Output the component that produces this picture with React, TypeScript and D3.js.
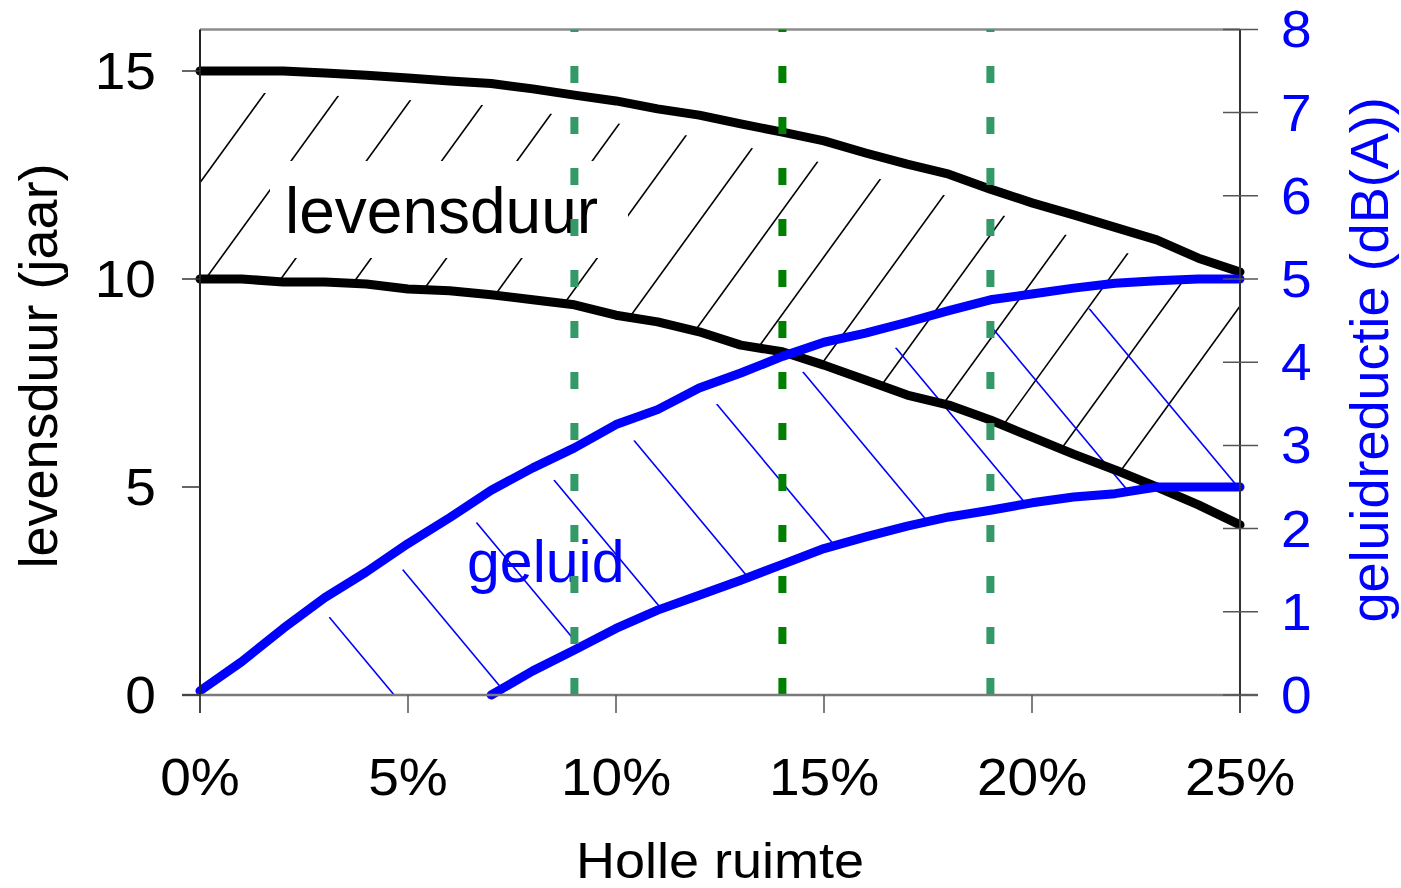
import React from 'react';
import * as d3 from 'd3';

// Holle ruimte (%)
const holleRuimte = [0, 1, 2, 3, 4, 5, 6, 7, 8, 9, 10, 11, 12, 13, 14, 15, 16, 17, 18, 19, 20, 21, 22, 23, 24, 25];
// levensduur (jaar) - left axis
const levensduurMax = [15, 15, 15, 14.95, 14.9, 14.83, 14.76, 14.7, 14.57, 14.42, 14.28, 14.09, 13.94, 13.73, 13.53, 13.32, 13.03, 12.76, 12.52, 12.16, 11.83, 11.54, 11.24, 10.94, 10.5, 10.17];
const levensduurMin = [10, 10, 9.93, 9.93, 9.88, 9.76, 9.72, 9.62, 9.5, 9.38, 9.13, 8.97, 8.73, 8.41, 8.25, 7.93, 7.57, 7.21, 6.97, 6.61, 6.2, 5.79, 5.41, 5.0, 4.57, 4.09];
// geluidreductie (dB(A)) - right axis
const geluidMax = [0.05, 0.4, 0.8, 1.17, 1.48, 1.82, 2.13, 2.46, 2.73, 2.97, 3.25, 3.43, 3.69, 3.87, 4.07, 4.24, 4.35, 4.48, 4.62, 4.75, 4.82, 4.89, 4.95, 4.98, 5, 5];
const geluidMin: (number | null)[] = [null, null, null, null, null, null, null, 0, 0.29, 0.54, 0.8, 1.02, 1.2, 1.38, 1.57, 1.76, 1.9, 2.03, 2.14, 2.22, 2.31, 2.38, 2.42, 2.5, 2.5, 2.5];

const markerPct = [9, 14, 19];
const markerColors = ['#339966', '#008000', '#339966'];

const xTicks = [0, 5, 10, 15, 20, 25];
const yLeftTicks = [0, 5, 10, 15];
const yRightTicks = [0, 1, 2, 3, 4, 5, 6, 7, 8];

const FONT = '"Liberation Sans", Arial, Helvetica, sans-serif';

export default function App() {
  const W = 1401;
  const H = 888;
  const x = d3.scaleLinear().domain([0, 25]).range([200, 1240]);
  const yL = d3.scaleLinear().domain([0, 16]).range([695, 29.4]);
  const yR = d3.scaleLinear().domain([0, 8]).range([695, 29.4]);
  const top = yL(16);
  const bottom = yL(0);

  const idx = holleRuimte.map((_, i) => i);

  const lineL = (arr: number[]) =>
    d3.line<number>().x(i => x(holleRuimte[i])).y(i => yL(arr[i]))(idx) || '';
  const lineR = (arr: (number | null)[]) =>
    d3
      .line<number>()
      .defined(i => arr[i] != null)
      .x(i => x(holleRuimte[i]))
      .y(i => yR(arr[i] as number))(idx) || '';

  // hatch clip regions
  const blackClip =
    d3
      .area<number>()
      .x(i => x(holleRuimte[i]))
      .y0(i => yL(levensduurMin[i]))
      .y1(i => yL(levensduurMax[i] - 0.53))(idx) || '';
  const blueClip =
    d3
      .area<number>()
      .x(i => x(holleRuimte[i]))
      .y0(i => yR(geluidMin[i] ?? 0))
      .y1(i => yR(geluidMax[i] - 0.27))(idx) || '';

  const blackHatch = d3.range(16).map(k => {
    const x0 = 115 + k * 75.3; // x at y=300
    const s = 1.38;
    return { x1: x0 + (300 - top) / s, y1: top, x2: x0 + (300 - bottom) / s, y2: bottom };
  });
  const blueHatch = d3.range(10).map(k => {
    const x0 = 190 + k * 113; // x at y=450
    const s = 1.2;
    return { x1: x0 + (top - 450) / s, y1: top, x2: x0 + (bottom - 450) / s, y2: bottom };
  });

  const stretch = 1.08;

  return (
    <svg
      width={W}
      height={H}
      style={{ position: 'absolute', left: 0, top: 0, background: '#fff' }}
      fontFamily={FONT}
    >
      <defs>
        <clipPath id="clipBlack">
          <path d={blackClip} />
        </clipPath>
        <clipPath id="clipBlue">
          <path d={blueClip} />
        </clipPath>
      </defs>
      <rect x={0} y={0} width={W} height={H} fill="#fff" />

      {/* hatching */}
      <g clipPath="url(#clipBlack)">
        {blackHatch.map((l, i) => (
          <line key={i} {...l} stroke="#000" strokeWidth={1.6} />
        ))}
      </g>
      <g clipPath="url(#clipBlue)">
        {blueHatch.map((l, i) => (
          <line key={i} {...l} stroke="#0000ff" strokeWidth={1.6} />
        ))}
      </g>

      {/* annotation box */}
      <rect x={270} y={161} width={358} height={97} fill="#fff" />
      <text x={285} y={233} fontSize={64} fill="#000">
        levensduur
      </text>
      <text x={467} y={582} fontSize={59} fill="#0000ff">
        geluid
      </text>

      {/* frame */}
      <line x1={x(0)} x2={x(25)} y1={top} y2={top} stroke="#8c8c8c" strokeWidth={2.5} />

      {/* curves */}
      <path d={lineL(levensduurMax)} fill="none" stroke="#000" strokeWidth={9} strokeLinejoin="round" strokeLinecap="round" />
      <path d={lineL(levensduurMin)} fill="none" stroke="#000" strokeWidth={9} strokeLinejoin="round" strokeLinecap="round" />
      <path d={lineR(geluidMax)} fill="none" stroke="#0000ff" strokeWidth={9} strokeLinejoin="round" strokeLinecap="round" />
      <path d={lineR(geluidMin)} fill="none" stroke="#0000ff" strokeWidth={9} strokeLinejoin="round" strokeLinecap="round" />

      {/* marker lines */}
      {markerPct.map((p, i) => (
        <line
          key={p}
          x1={x(p)}
          x2={x(p)}
          y1={bottom}
          y2={top}
          stroke={markerColors[i]}
          strokeWidth={8}
          strokeDasharray="17 34"
        />
      ))}

      {/* axes */}
      <line x1={182} x2={1258} y1={bottom} y2={bottom} stroke="#7a7a7a" strokeWidth={2.5} />
      <line x1={x(0)} x2={x(0)} y1={top} y2={bottom + 18} stroke="#222" strokeWidth={2} />
      <line x1={x(25)} x2={x(25)} y1={top} y2={bottom + 18} stroke="#333" strokeWidth={2} />
      {xTicks.map(t => (
        <g key={t}>
          <line x1={x(t)} x2={x(t)} y1={bottom} y2={bottom + 18} stroke="#555" strokeWidth={1.5} />
          <text
            transform={`translate(${x(t)},795) scale(${stretch},1)`}
            textAnchor="middle"
            fontSize={51}
            fill="#000"
          >
            {`${t}%`}
          </text>
        </g>
      ))}
      {yLeftTicks.map(t => (
        <g key={t}>
          <line x1={182} x2={200} y1={yL(t)} y2={yL(t)} stroke="#333" strokeWidth={1.5} />
          <text
            transform={`translate(156,${yL(t) + 18}) scale(${stretch},1)`}
            textAnchor="end"
            fontSize={51}
            fill="#000"
          >
            {t}
          </text>
        </g>
      ))}
      {yRightTicks.map(t => (
        <g key={t}>
          <line x1={1223} x2={1258} y1={yR(t)} y2={yR(t)} stroke="#555" strokeWidth={1.5} />
          <text
            transform={`translate(1281,${yR(t) + 18}) scale(${stretch},1)`}
            textAnchor="start"
            fontSize={51}
            fill="#0000ff"
          >
            {t}
          </text>
        </g>
      ))}

      {/* axis titles */}
      <text transform={`translate(57,366) rotate(-90)`} textAnchor="middle" fontSize={54} fill="#000">
        levensduur (jaar)
      </text>
      <text transform={`translate(1388,360) rotate(-90)`} textAnchor="middle" fontSize={54} fill="#0000ff">
        geluidreductie (dB(A))
      </text>
      <text
        transform={`translate(720,878) scale(${stretch},1)`}
        textAnchor="middle"
        fontSize={50}
        fill="#000"
      >
        Holle ruimte
      </text>
    </svg>
  );
}
